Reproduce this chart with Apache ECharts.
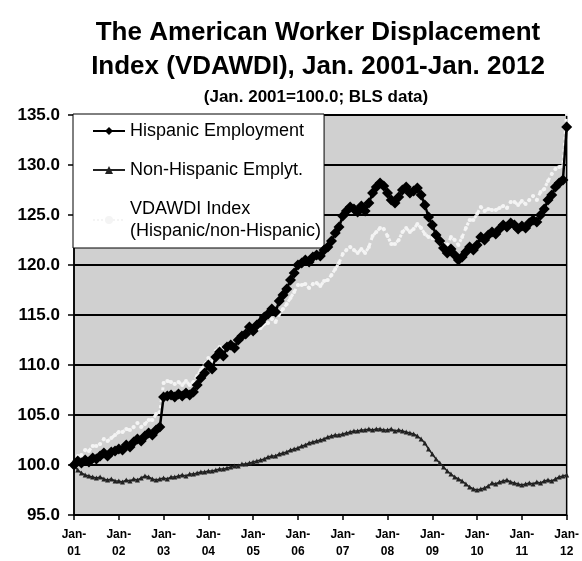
<!DOCTYPE html>
<html>
<head>
<meta charset="utf-8">
<script src="https://cdn.jsdelivr.net/npm/echarts@6/dist/echarts.min.js"></script>
<style>
  html, body { margin: 0; padding: 0; background: #fff; }
  #chart { width: 582px; height: 561px; }
</style>
</head>
<body>
<div id="chart"></div>
<script>
  // year labels on the x axis (one tick every January)
  const yearLabels = ['01', '02', '03', '04', '05', '06', '07', '08', '09', '10', '11', '12'];

  // monthly values, Jan 2001 .. Jan 2012 (Jan 2001 = 100.0)
  const hispanic = [
    100.0, 100.4, 100.2, 100.5, 100.3, 100.7, 100.6, 100.9, 101.2, 100.9, 101.3, 101.4,
    101.6, 101.5, 102.0, 101.8, 102.3, 102.6, 102.4, 102.9, 103.2, 103.0, 103.5, 103.8,
    106.8, 106.9, 107.0, 106.8, 107.1, 106.9, 107.2, 107.0, 107.3, 108.0, 108.7, 109.2,
    110.0, 109.6, 110.8, 111.3, 110.9, 111.8, 112.0, 111.7, 112.5, 112.9, 113.1, 113.8,
    113.4, 114.0, 114.3, 114.8, 115.1, 115.6, 115.3, 116.4, 117.0, 117.6, 118.5, 119.2,
    120.0, 120.2, 120.5, 120.3, 120.8, 121.0, 120.9, 121.5, 121.8, 122.4, 123.2, 123.8,
    124.9, 125.4, 125.8, 125.6, 125.3, 125.9, 125.4, 126.2, 127.2, 127.8, 128.2, 127.9,
    127.2, 126.5, 126.2, 126.8, 127.5, 127.8, 127.2, 127.4, 127.7, 127.0, 126.0, 124.8,
    124.0, 123.0, 122.4, 121.7, 121.2, 121.6, 121.0, 120.5, 120.8, 121.3, 121.8, 121.5,
    122.0, 122.8, 122.5, 123.0, 123.3, 123.1, 123.6, 124.0, 123.8, 124.2, 124.0, 123.6,
    123.9, 123.7, 124.2, 124.5, 124.3, 125.0, 125.6, 126.5, 127.0, 127.8, 128.2, 128.5,
    133.8
  ];

  const nonHispanic = [
    100.0, 99.5, 99.2, 99.0, 98.9, 98.8, 98.7, 98.8, 98.6, 98.5, 98.6, 98.4,
    98.4, 98.3, 98.5, 98.4, 98.6, 98.5, 98.7, 98.9, 98.8, 98.6, 98.5, 98.6,
    98.7, 98.6, 98.8, 98.8, 98.9, 99.0, 98.9, 99.1, 99.1, 99.2, 99.3, 99.3,
    99.4, 99.4, 99.5, 99.6, 99.6, 99.7, 99.8, 99.9, 99.9, 100.1, 100.1, 100.2,
    100.3, 100.4, 100.5, 100.6, 100.8, 100.9, 100.9, 101.1, 101.2, 101.3, 101.5, 101.6,
    101.7, 101.9, 102.0, 102.2, 102.3, 102.4, 102.5, 102.6, 102.8, 102.9, 103.0, 103.0,
    103.1, 103.2, 103.3, 103.4, 103.4, 103.5, 103.5, 103.6, 103.5, 103.6, 103.6, 103.5,
    103.5, 103.6, 103.4, 103.5, 103.4, 103.3, 103.2, 103.1, 102.9, 102.6, 102.2, 101.6,
    101.1, 100.6, 100.2, 99.8, 99.4, 99.1, 98.8, 98.6, 98.4, 98.1, 97.8, 97.6,
    97.5, 97.6, 97.7, 97.9, 98.2, 98.1, 98.3, 98.4, 98.5, 98.3, 98.2, 98.1,
    98.0, 98.1, 98.2, 98.1, 98.3, 98.2, 98.4, 98.5, 98.4, 98.6, 98.8, 98.9,
    99.0
  ];

  const vdawdi = [
    100.0, 100.9, 101.0, 101.5, 101.4, 101.9, 101.9, 102.1, 102.6, 102.4, 102.7, 103.0,
    103.3, 103.3, 103.6, 103.5, 103.8, 104.2, 103.8, 104.1, 104.5, 104.5, 105.1, 105.3,
    108.2, 108.4, 108.3, 108.1, 108.3, 108.0, 108.4, 108.0, 108.3, 108.9, 109.5, 110.0,
    110.7, 110.3, 111.4, 111.8, 111.3, 112.1, 112.2, 111.8, 112.6, 112.8, 113.0, 113.6,
    113.1, 113.6, 113.7, 114.1, 114.2, 114.6, 114.3, 115.1, 115.6, 116.1, 116.7, 117.3,
    118.0, 118.0, 118.1, 117.7, 118.1, 118.2, 117.9, 118.4, 118.5, 119.0, 119.6, 120.2,
    121.1, 121.5, 121.8, 121.5, 121.2, 121.6, 121.2, 121.8, 122.9, 123.3, 123.7, 123.6,
    122.9, 122.1, 122.1, 122.5, 123.3, 123.7, 123.3, 123.6, 124.1, 123.7, 123.1, 122.8,
    122.7, 122.7, 122.6, 122.1, 122.0, 122.8, 122.5, 122.0, 122.8, 123.7, 124.5, 124.5,
    125.1, 125.8, 125.4, 125.6, 125.5, 125.5, 125.7, 125.9, 125.7, 126.3, 126.3, 126.0,
    126.4, 126.1, 126.5, 126.9, 126.5, 127.3, 127.6, 128.4, 129.1, 129.6, 129.8, 129.9,
    135.2
  ];

  // one category per month
  let months = [];
  for (let i = 0; i < hispanic.length; i++) {
    months.push(yearLabels[Math.floor(i / 12)] + '-' + (i % 12 + 1));
  }

  const chart = echarts.init(document.getElementById('chart'));
  const isJan = function (index) { return index % 12 === 0; };
  const font = 'Liberation Sans, Arial, sans-serif';

  let option = {
    backgroundColor: '#fff',
    animation: false,
    title: [
      {
        text: 'The American Worker Displacement\nIndex (VDAWDI), Jan. 2001-Jan. 2012',
        left: 318,
        textAlign: 'center',
        top: 16,
        padding: 0,
        textStyle: {
          fontFamily: font,
          fontWeight: 'bold',
          fontSize: 26,
          lineHeight: 34,
          color: '#000'
        }
      },
      {
        text: '(Jan. 2001=100.0; BLS data)',
        left: 316,
        textAlign: 'center',
        top: 88,
        padding: 0,
        textStyle: {
          fontFamily: font,
          fontWeight: 'bold',
          fontSize: 17,
          lineHeight: 18,
          color: '#000'
        }
      }
    ],
    legend: {
      orient: 'vertical',
      left: 73,
      top: 114,
      padding: [6, 3, 6, 19],
      itemGap: 17,
      itemWidth: 32,
      itemHeight: 10,
      backgroundColor: '#fff',
      borderColor: '#000',
      borderWidth: 1,
      data: ['Hispanic Employment', 'Non-Hispanic Emplyt.', 'VDAWDI Index\n(Hispanic/non-Hispanic)'],
      textStyle: {
        fontFamily: font,
        fontSize: 18,
        lineHeight: 22,
        color: '#000'
      }
    },
    grid: {
      left: 74,
      right: 8,
      top: 115,
      bottom: 46,
      show: true,
      backgroundColor: '#d0d0d0',
      borderColor: '#000',
      borderWidth: 1.5
    },
    xAxis: {
      type: 'category',
      data: months,
      boundaryGap: false,
      axisLine: { lineStyle: { color: '#000', width: 1.5 } },
      axisTick: { interval: isJan, length: 5, lineStyle: { color: '#000', width: 1.5 } },
      axisLabel: {
        interval: isJan,
        margin: 11,
        fontFamily: font,
        fontWeight: 'bold',
        fontSize: 12,
        lineHeight: 17,
        color: '#000',
        formatter: function (value) { return 'Jan-\n' + value.split('-')[0]; }
      },
      splitLine: { show: false }
    },
    yAxis: {
      type: 'value',
      min: 95,
      max: 135,
      interval: 5,
      axisLine: { show: true, lineStyle: { color: '#000', width: 1.5 } },
      axisTick: { show: true, length: 6, lineStyle: { color: '#000', width: 1.5 } },
      axisLabel: {
        margin: 14,
        fontFamily: font,
        fontWeight: 'bold',
        fontSize: 17,
        color: '#000',
        formatter: function (v) { return v.toFixed(1); }
      },
      splitLine: { lineStyle: { color: '#000', width: 2 } }
    },
    series: [
      {
        name: 'VDAWDI Index\n(Hispanic/non-Hispanic)',
        type: 'line',
        data: vdawdi,
        symbol: 'circle',
        symbolSize: 4,
        showAllSymbol: true,
        z: 2,
        lineStyle: { color: '#f4f4f4', width: 3, type: 'dotted' },
        itemStyle: { color: '#f4f4f4' }
      },
      {
        name: 'Non-Hispanic Emplyt.',
        type: 'line',
        data: nonHispanic,
        symbol: 'triangle',
        symbolSize: 5,
        showAllSymbol: true,
        z: 3,
        lineStyle: { color: '#222', width: 1.5 },
        itemStyle: { color: '#222' }
      },
      {
        name: 'Hispanic Employment',
        type: 'line',
        data: hispanic,
        symbol: 'diamond',
        symbolSize: 11,
        showAllSymbol: true,
        z: 4,
        lineStyle: { color: '#000', width: 2.5 },
        itemStyle: { color: '#000' }
      }
    ]
  };

  chart.setOption(option);
  window.addEventListener('resize', function () {
    chart.resize();
  });
</script>
</body>
</html>
